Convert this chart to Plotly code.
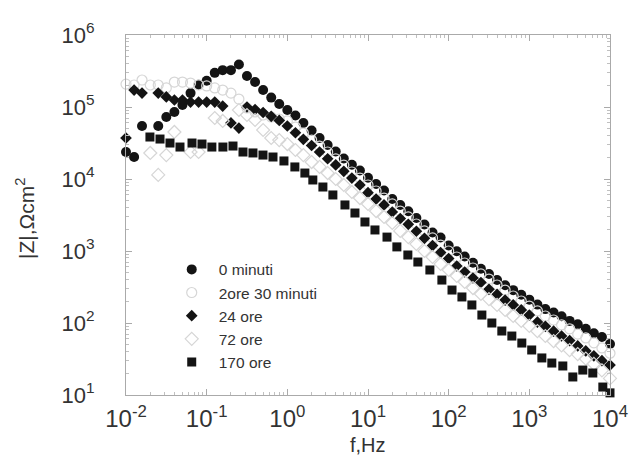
import plotly.graph_objects as go

# Frequency sweep (Hz), 10 points per decade
F = [0.01, 0.0126, 0.0158, 0.02, 0.0251, 0.0316, 0.0398, 0.0501, 0.0631, 0.0794,
     0.1, 0.126, 0.158, 0.2, 0.251, 0.316, 0.398, 0.501, 0.631, 0.794,
     1, 1.26, 1.58, 2.0, 2.51, 3.16, 3.98, 5.01, 6.31, 7.94,
     10, 12.6, 15.8, 20, 25.1, 31.6, 39.8, 50.1, 63.1, 79.4,
     100, 126, 158, 200, 251, 316, 398, 501, 631, 794,
     1000, 1260, 1580, 2000, 2510, 3160, 3980, 5010, 6310, 7940, 10000]

Z_0min = [23700, 20200, 54500, None, 54500, 72600, 85000, 107000, 156000, 203000,
          231000, 298000, 325000, 325000, 390000, 270000, 222000, 172000, 135000, 110000,
          90800, 76400, 60000, 47200, 37100, 29700, 24100, 19300, 15800, 13100,
          10400, 8530, 6920, 5270, 4350, 3560, 2870, 2330, 1810, 1540,
          1190, 993, 839, 686, 567, 480, 395, 335, 286, 247,
          211, 180, 156, 140, 124, 107, 96, 83, 72, 64, 51]

Z_2h30 = [208000, 202000, 237000, 202000, 202000, 184000, 222000, 222000, 215000, 202000,
          196000, 184000, 172000, 156000, 129000, 96900, 85300, 77400, 72600, 68100,
          64000, 52700, 43500, 34800, 28700, 23700, 19000, 15600, 12500, 10300,
          8260, 6810, 5440, 4500, 3590, 2970, 2370, 1900, 1520, 1210,
          1000, 826, 681, 581, 480, 408, 337, 287, 237, 202,
          172, 147, 125, 110, 94, 83, 70, 62, 53, 45, 38]

Z_24h = [37100, 172000, 156000, None, 156000, 138000, 125000, 125000, 117000, 117000,
         117000, 117000, 103000, 60000, 51000, 100000, 92300, 83900, 74300, 65000,
         54500, 43900, 35600, 29200, 23700, 19100, 15700, 12800, 10300, 8260,
         6460, 5260, 4370, 3480, 2820, 2350, 1880, 1500, 1190, 950,
         787, 619, 511, 422, 365, 294, 249, 208, 178, 152,
         129, 103, 90, 77, 66, 57, 48, 41, 35, 30, 26]

Z_72h = [None, None, None, 23000, 11400, 21500, 45000, None, 23700, 23700,
         None, 70300, 64000, None, 90800, 77400, 66000, 47900, 37100, 34700,
         30600, 25300, 21500, 17200, 14700, 12100, 10000, 8250, 6600, 5440,
         4500, 3590, 2970, 2450, 1900, 1560, 1250, 1000, 826, 660,
         545, 450, 371, 306, 253, 215, 178, 152, 125, 107,
         91, 77, 66, 56, 49, 42, 37, 32, 27, 22, 17]

F_170h = [0.0198, 0.0264, 0.0351, 0.0467, 0.0658, 0.0875, 0.116, 0.159, 0.212, 0.282,
          0.375, 0.499, 0.664, 0.908, 1.24, 1.65, 2.07, 2.76, 3.67, 5.18,
          6.89, 9.17, 12.2, 17.2, 22.8, 31.2, 41.5, 58.5, 82.4, 110,
          146, 194, 258, 343, 456, 607, 807, 1070, 1430, 1900,
          2600, 3460, 4600, 6120, 8150, 10000]
Z_170h = [38300, 35900, 31600, 27800, 31600, 30600, 27800, 27800, 28700, 23700,
          23000, 21500, 20200, 17800, 14700, 12100, 9690, 7740, 6000, 4360,
          3370, 2530, 1960, 1560, 1140, 880, 703, 545, 395, 287,
          230, 178, 129, 100, 77.4, 65.9, 52.7, 42.2, 32.7, 27.8,
          25.3, 17.8, 22.2, 20.2, 12.9, 10.7]

NAMES = ["0 minuti", "2ore 30 minuti", "24 ore", "72 ore", "170 ore"]

X_TICKS = [0.01, 0.1, 1, 10, 100, 1000, 10000]
X_TICKTEXT = ["10<sup>-2</sup>", "10<sup>-1</sup>", "10<sup>0</sup>", "10<sup>1</sup>",
              "10<sup>2</sup>", "10<sup>3</sup>", "10<sup>4</sup>"]
Y_TICKS = [10, 100, 1000, 10000, 100000, 1000000]
Y_TICKTEXT = ["10<sup>1</sup>", "10<sup>2</sup>", "10<sup>3</sup>", "10<sup>4</sup>",
              "10<sup>5</sup>", "10<sup>6</sup>"]
X_TITLE = "f,Hz"
Y_TITLE = "|Z|,Ωcm<sup>2</sup>"

DARK = "#141414"
LIGHT = "#d6d6d6"
FONT = "Liberation Sans, Arial, sans-serif"

fig = go.Figure()
fig.add_trace(go.Scatter(x=F, y=Z_0min, mode="markers", name=NAMES[0], cliponaxis=False,
                         marker=dict(symbol="circle", size=10, color=DARK, line=dict(width=0))))
fig.add_trace(go.Scatter(x=F, y=Z_2h30, mode="markers", name=NAMES[1], cliponaxis=False,
                         marker=dict(symbol="circle-open", size=10, color=LIGHT, line=dict(width=1.2, color=LIGHT))))
fig.add_trace(go.Scatter(x=F, y=Z_24h, mode="markers", name=NAMES[2], cliponaxis=False,
                         marker=dict(symbol="diamond", size=9, color=DARK, line=dict(width=0))))
fig.add_trace(go.Scatter(x=F, y=Z_72h, mode="markers", name=NAMES[3], cliponaxis=False,
                         marker=dict(symbol="diamond-open", size=10, color=LIGHT, line=dict(width=1.2, color=LIGHT))))
fig.add_trace(go.Scatter(x=F_170h, y=Z_170h, mode="markers", name=NAMES[4], cliponaxis=False,
                         marker=dict(symbol="square", size=9, color=DARK, line=dict(width=0))))

axis_common = dict(
    type="log", automargin=False,
    ticks="inside", ticklen=6, tickcolor="#aaaaaa", tickwidth=1,
    showline=True, linecolor="#aaaaaa", linewidth=1, mirror="ticks",
    showgrid=False, zeroline=False,
    minor=dict(ticks="inside", ticklen=3, tickcolor="#c0c0c0", dtick="D1", showgrid=False),
)

fig.update_xaxes(range=[-2, 4], tickvals=X_TICKS, ticktext=X_TICKTEXT,
                 tickfont=dict(size=24, family=FONT, color="#333"), ticklabelstandoff=2,
                 **axis_common)
fig.update_yaxes(range=[1, 6], tickvals=Y_TICKS, ticktext=Y_TICKTEXT,
                 tickfont=dict(size=22, family=FONT, color="#333"), ticklabelstandoff=26,
                 **axis_common)

# axis titles placed as annotations (outside the plot area)
fig.add_annotation(text=X_TITLE, xref="paper", yref="paper", x=0.5, y=-0.138,
                   xanchor="center", yanchor="middle", showarrow=False,
                   font=dict(size=20, family=FONT, color="#333"))
fig.add_annotation(text=Y_TITLE, xref="paper", yref="paper", x=-0.21, y=0.49,
                   xanchor="center", yanchor="middle", textangle=-90, showarrow=False,
                   font=dict(size=21, family=FONT, color="#333"))

fig.update_layout(
    width=639, height=456,
    margin=dict(l=126, r=29, t=35, b=61),
    paper_bgcolor="white", plot_bgcolor="white",
    font=dict(family=FONT, color="#333"),
    legend=dict(x=0.08, y=0.395, xanchor="left", yanchor="top",
                bgcolor="rgba(0,0,0,0)", font=dict(size=15.5, family=FONT, color="#333"),
                tracegroupgap=0, itemwidth=44),
)

fig.write_html("out.html")
